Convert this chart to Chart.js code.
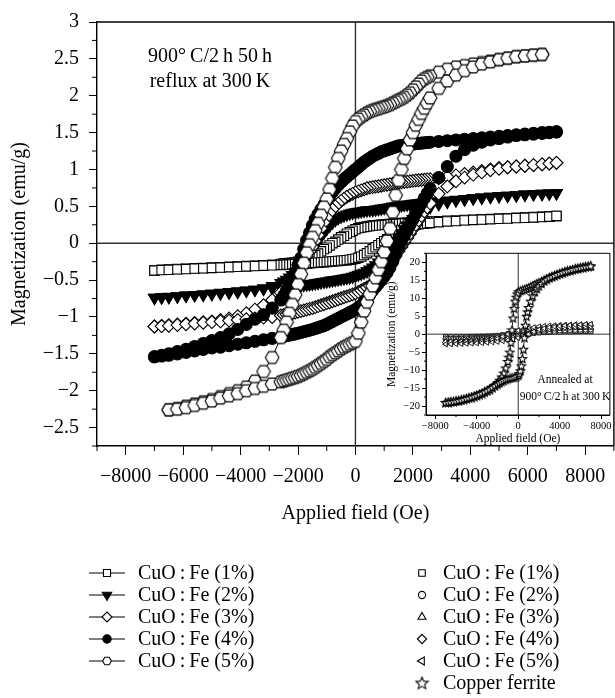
<!DOCTYPE html>
<html>
<head>
<meta charset="utf-8">
<script src="https://cdn.jsdelivr.net/npm/chart.js@4/dist/chart.umd.min.js"></script>
<style>
  html, body { margin: 0; padding: 0; background: #fff; overflow: hidden; }
  #wrap { position: relative; width: 615px; height: 698px; overflow: hidden; }
  #main { position: absolute; left: 0; top: 0; }
  #inset { position: absolute; left: 380px; top: 245px; }
</style>
</head>
<body>
<div id="wrap">
  <canvas id="main" width="622" height="698"></canvas>
  <canvas id="inset" width="235" height="205"></canvas>
</div>
<script>
// ---- main figure: field steps (Oe), descending then ascending branch
const fieldDown = [7000, 6750, 6500, 6200, 5900, 5600, 5300, 5000, 4700, 4400, 4100, 3800, 3500, 3200, 2900,
  2600, 2500, 2400, 2300, 2200, 2100, 2000, 1900, 1800, 1700, 1600, 1500, 1400, 1300, 1200, 1100, 1000, 900, 800, 700, 600, 500, 400, 300, 200, 100,
  0, -100, -200, -300, -400, -500, -600, -700, -800, -900, -1000, -1100, -1200, -1300, -1400, -1500, -1600, -1700, -1800, -1900, -2000, -2100, -2200, -2300, -2400, -2500, -2600,
  -2900, -3200, -3500, -3800, -4100, -4400, -4700, -5000, -5300, -5600, -5900, -6200, -6500, -6750, -7000];
const fieldUp = [-7000, -6750, -6500, -6200, -5900, -5600, -5300, -5000, -4700, -4400, -4100, -3800, -3500, -3200, -2900,
  -2600, -2500, -2400, -2300, -2200, -2100, -2000, -1900, -1800, -1700, -1600, -1500, -1400, -1300, -1200, -1100, -1000, -900, -800, -700, -600, -500, -400, -300, -200, -100,
  0, 100, 200, 300, 400, 500, 600, 700, 800, 900, 1000, 1100, 1200, 1300, 1400, 1500, 1600, 1700, 1800, 1900, 2000, 2100, 2200, 2300, 2400, 2500, 2600,
  2900, 3200, 3500, 3800, 4100, 4400, 4700, 5000, 5300, 5600, 5900, 6200, 6500, 6750, 7000];

// magnetization (emu/g), 50 h reflux samples
const fe1Down = [0.37, 0.365, 0.36, 0.355, 0.35, 0.345, 0.34, 0.335, 0.33, 0.325, 0.32, 0.315, 0.31, 0.305, 0.30,
  0.295, 0.293, 0.291, 0.289, 0.287, 0.285, 0.283, 0.28, 0.278, 0.275, 0.273, 0.27, 0.267, 0.264, 0.26, 0.257, 0.254, 0.25, 0.247, 0.243, 0.24, 0.234, 0.227, 0.22, 0.214, 0.205,
  0.19, 0.17, 0.15, 0.13, 0.10, 0.08, 0.05, 0.02, 0.0, -0.03, -0.06, -0.08, -0.11, -0.14, -0.16, -0.18, -0.195, -0.21, -0.225, -0.24, -0.25, -0.26, -0.264, -0.268, -0.272, -0.276, -0.28,
  -0.29, -0.30, -0.305, -0.31, -0.315, -0.32, -0.325, -0.33, -0.335, -0.34, -0.345, -0.35, -0.355, -0.36, -0.37];
const fe1Up = [-0.37, -0.365, -0.36, -0.355, -0.35, -0.345, -0.34, -0.335, -0.33, -0.325, -0.32, -0.315, -0.31, -0.305, -0.30,
  -0.295, -0.293, -0.291, -0.289, -0.287, -0.285, -0.283, -0.28, -0.278, -0.275, -0.273, -0.27, -0.267, -0.264, -0.26, -0.257, -0.254, -0.25, -0.247, -0.243, -0.24, -0.236, -0.233, -0.23, -0.224, -0.217,
  -0.21, -0.197, -0.182, -0.16, -0.135, -0.11, -0.08, -0.055, -0.027, 0.0, 0.027, 0.053, 0.08, 0.107, 0.133, 0.16, 0.18, 0.20, 0.215, 0.23, 0.24, 0.25, 0.256, 0.262, 0.266, 0.27, 0.275,
  0.285, 0.295, 0.30, 0.31, 0.315, 0.32, 0.325, 0.33, 0.335, 0.34, 0.345, 0.35, 0.355, 0.36, 0.37];
const fe2Down = [0.68, 0.675, 0.67, 0.665, 0.66, 0.65, 0.645, 0.64, 0.63, 0.62, 0.61, 0.60, 0.59, 0.58, 0.57,
  0.56, 0.556, 0.552, 0.548, 0.544, 0.54, 0.535, 0.53, 0.525, 0.52, 0.515, 0.51, 0.503, 0.497, 0.49, 0.483, 0.477, 0.47, 0.463, 0.457, 0.45, 0.45, 0.447, 0.44, 0.433, 0.427,
  0.42, 0.413, 0.403, 0.39, 0.377, 0.36, 0.34, 0.315, 0.28, 0.24, 0.195, 0.145, 0.09, 0.035, -0.02, -0.07, -0.125, -0.18, -0.235, -0.29, -0.34, -0.39, -0.43, -0.465, -0.495, -0.52, -0.54,
  -0.58, -0.61, -0.63, -0.645, -0.66, -0.67, -0.68, -0.69, -0.70, -0.705, -0.71, -0.72, -0.725, -0.73, -0.74];
const fe2Up = [-0.74, -0.735, -0.73, -0.72, -0.71, -0.70, -0.69, -0.68, -0.67, -0.66, -0.65, -0.64, -0.63, -0.62, -0.61,
  -0.60, -0.596, -0.592, -0.588, -0.584, -0.58, -0.575, -0.57, -0.565, -0.56, -0.555, -0.55, -0.543, -0.537, -0.53, -0.523, -0.517, -0.51, -0.503, -0.497, -0.49, -0.483, -0.477, -0.47, -0.463, -0.453,
  -0.44, -0.427, -0.413, -0.40, -0.38, -0.357, -0.33, -0.297, -0.26, -0.22, -0.173, -0.123, -0.07, -0.017, 0.037, 0.09, 0.14, 0.19, 0.24, 0.29, 0.33, 0.37, 0.40, 0.425, 0.45, 0.47, 0.49,
  0.53, 0.56, 0.58, 0.595, 0.61, 0.62, 0.63, 0.64, 0.645, 0.65, 0.66, 0.665, 0.67, 0.675, 0.68];
const fe3Down = [1.09, 1.08, 1.07, 1.06, 1.05, 1.04, 1.03, 1.02, 1.00, 0.98, 0.96, 0.94, 0.92, 0.90, 0.88,
  0.87, 0.866, 0.862, 0.858, 0.854, 0.85, 0.845, 0.84, 0.835, 0.83, 0.825, 0.82, 0.813, 0.807, 0.80, 0.793, 0.787, 0.78, 0.773, 0.767, 0.76, 0.753, 0.745, 0.73, 0.717, 0.703,
  0.69, 0.67, 0.65, 0.63, 0.603, 0.575, 0.54, 0.50, 0.46, 0.41, 0.35, 0.28, 0.20, 0.11, 0.03, -0.05, -0.115, -0.18, -0.24, -0.30, -0.365, -0.43, -0.48, -0.53, -0.58, -0.625, -0.67,
  -0.77, -0.84, -0.90, -0.95, -0.99, -1.02, -1.04, -1.06, -1.07, -1.08, -1.09, -1.10, -1.11, -1.12, -1.13];
const fe3Up = [-1.13, -1.125, -1.12, -1.11, -1.10, -1.09, -1.08, -1.07, -1.06, -1.05, -1.04, -1.03, -1.02, -1.01, -1.00,
  -0.98, -0.972, -0.964, -0.956, -0.948, -0.94, -0.93, -0.92, -0.91, -0.90, -0.89, -0.88, -0.867, -0.853, -0.84, -0.827, -0.813, -0.80, -0.787, -0.773, -0.76, -0.747, -0.733, -0.72, -0.707, -0.693,
  -0.68, -0.66, -0.64, -0.62, -0.60, -0.577, -0.55, -0.517, -0.48, -0.44, -0.393, -0.343, -0.29, -0.23, -0.17, -0.11, -0.05, 0.01, 0.07, 0.13, 0.19, 0.25, 0.31, 0.37, 0.43, 0.485, 0.54,
  0.67, 0.77, 0.84, 0.89, 0.93, 0.96, 0.99, 1.01, 1.03, 1.04, 1.05, 1.06, 1.07, 1.08, 1.09];
const fe4Down = [1.51, 1.505, 1.50, 1.49, 1.48, 1.47, 1.46, 1.45, 1.44, 1.43, 1.42, 1.41, 1.40, 1.39, 1.38,
  1.37, 1.366, 1.362, 1.358, 1.354, 1.35, 1.345, 1.34, 1.335, 1.33, 1.325, 1.32, 1.307, 1.293, 1.28, 1.267, 1.253, 1.24, 1.22, 1.20, 1.18, 1.153, 1.127, 1.10, 1.067, 1.033,
  1.00, 0.967, 0.933, 0.90, 0.867, 0.83, 0.79, 0.743, 0.695, 0.64, 0.58, 0.52, 0.46, 0.395, 0.325, 0.24, 0.14, 0.04, -0.08, -0.20, -0.30, -0.40, -0.48, -0.56, -0.64, -0.71, -0.77,
  -0.88, -0.97, -1.03, -1.10, -1.17, -1.23, -1.28, -1.32, -1.36, -1.40, -1.44, -1.47, -1.50, -1.52, -1.54];
const fe4Up = [-1.54, -1.53, -1.52, -1.50, -1.48, -1.46, -1.44, -1.42, -1.41, -1.39, -1.37, -1.35, -1.33, -1.31, -1.29,
  -1.27, -1.262, -1.254, -1.246, -1.238, -1.23, -1.22, -1.21, -1.20, -1.19, -1.18, -1.17, -1.157, -1.143, -1.13, -1.117, -1.10, -1.08, -1.06, -1.04, -1.02, -1.00, -0.98, -0.96, -0.94, -0.92,
  -0.90, -0.875, -0.845, -0.80, -0.75, -0.695, -0.64, -0.593, -0.547, -0.50, -0.453, -0.40, -0.33, -0.245, -0.15, -0.05, 0.025, 0.10, 0.175, 0.25, 0.325, 0.40, 0.47, 0.54, 0.61, 0.675, 0.74,
  0.89, 1.04, 1.18, 1.27, 1.33, 1.37, 1.40, 1.42, 1.44, 1.46, 1.47, 1.48, 1.49, 1.50, 1.51];
const fe5Down = [null, null, 2.56, 2.55, 2.54, 2.53, 2.51, 2.49, 2.47, 2.45, 2.43, 2.41, 2.39, 2.36, 2.32,
  2.27, 2.25, 2.23, 2.20, 2.16, 2.12, 2.08, 2.04, 2.01, 1.98, 1.96, 1.94, 1.92, 1.90, 1.88, 1.865, 1.85, 1.84, 1.825, 1.815, 1.80, 1.785, 1.765, 1.74, 1.715, 1.685,
  1.65, 1.59, 1.51, 1.42, 1.34, 1.25, 1.15, 1.03, 0.88, 0.73, 0.60, 0.49, 0.38, 0.27, 0.17, 0.08, -0.02, -0.13, -0.27, -0.42, -0.56, -0.70, -0.83, -0.95, -1.07, -1.18, -1.28,
  -1.55, -1.74, -1.87, -1.95, -2.00, -2.04, -2.08, -2.12, -2.15, -2.18, -2.21, -2.24, -2.26, null, null];
const fe5Up = [null, null, -2.26, -2.25, -2.23, -2.20, -2.17, -2.14, -2.10, -2.07, -2.04, -2.00, -1.97, -1.94, -1.91,
  -1.88, -1.868, -1.856, -1.844, -1.832, -1.82, -1.805, -1.79, -1.77, -1.75, -1.73, -1.71, -1.683, -1.657, -1.63, -1.603, -1.575, -1.54, -1.513, -1.487, -1.46, -1.433, -1.41, -1.39, -1.37, -1.35,
  -1.33, -1.22, -1.07, -0.92, -0.80, -0.69, -0.58, -0.47, -0.36, -0.25, -0.12, 0.03, 0.20, 0.42, 0.65, 0.85, 1.00, 1.15, 1.28, 1.40, 1.50, 1.60, 1.68, 1.76, 1.83, 1.90, 1.97,
  2.10, 2.20, 2.28, 2.34, 2.39, 2.43, 2.46, 2.49, 2.51, 2.53, 2.54, 2.55, 2.56, null, null];

const xTicks = [-8000, -6000, -4000, -2000, 0, 2000, 4000, 6000, 8000];
const xMinorTicks = [-9000, -7000, -5000, -3000, -1000, 1000, 3000, 5000, 7000, 9000];
const yTicks = [-2.5, -2, -1.5, -1, -0.5, 0, 0.5, 1, 1.5, 2, 2.5, 3];
const yMinorTicks = [-2.75, -2.25, -1.75, -1.25, -0.75, -0.25, 0.25, 0.75, 1.25, 1.75, 2.25, 2.75];

// ---- inset: annealed samples
const insetFieldDown = [7000, 6500, 6000, 5500, 5000, 4500, 4000, 3500, 3000, 2500, 2000, 1500, 1000, 500, 0, -500, -1000, -1500, -2000, -2500, -3000, -3500, -4000, -4500, -5000, -5500, -6000, -6500, -7000];
const insetFieldUp = [-7000, -6500, -6000, -5500, -5000, -4500, -4000, -3500, -3000, -2500, -2000, -1500, -1000, -500, 0, 500, 1000, 1500, 2000, 2500, 3000, 3500, 4000, 4500, 5000, 5500, 6000, 6500, 7000];
const ann1Down = [0.8, 0.79, 0.78, 0.78, 0.76, 0.74, 0.73, 0.7, 0.68, 0.65, 0.61, 0.55, 0.48, 0.4, 0.3, 0.18, 0, -0.2, -0.36, -0.46, -0.54, -0.59, -0.64, -0.68, -0.71, -0.74, -0.76, -0.78, -0.8];
const ann1Up = [-0.8, -0.79, -0.78, -0.78, -0.76, -0.74, -0.73, -0.7, -0.68, -0.65, -0.61, -0.55, -0.48, -0.4, -0.3, -0.18, 0, 0.2, 0.36, 0.46, 0.54, 0.59, 0.64, 0.68, 0.71, 0.74, 0.76, 0.78, 0.8];
const ann2Down = [1.3, 1.29, 1.27, 1.26, 1.24, 1.21, 1.18, 1.14, 1.1, 1.05, 0.99, 0.9, 0.78, 0.65, 0.49, 0.29, 0, -0.33, -0.59, -0.75, -0.87, -0.96, -1.04, -1.1, -1.16, -1.2, -1.24, -1.27, -1.3];
const ann2Up = [-1.3, -1.29, -1.27, -1.26, -1.24, -1.21, -1.18, -1.14, -1.1, -1.05, -0.99, -0.9, -0.78, -0.65, -0.49, -0.29, 0, 0.33, 0.59, 0.75, 0.87, 0.96, 1.04, 1.1, 1.16, 1.2, 1.24, 1.27, 1.3];
const ann3Down = [1.8, 1.78, 1.76, 1.75, 1.71, 1.67, 1.64, 1.58, 1.53, 1.46, 1.37, 1.24, 1.08, 0.9, 0.68, 0.4, 0, -0.45, -0.81, -1.04, -1.21, -1.33, -1.44, -1.53, -1.6, -1.66, -1.71, -1.76, -1.8];
const ann3Up = [-1.8, -1.78, -1.76, -1.75, -1.71, -1.67, -1.64, -1.58, -1.53, -1.46, -1.37, -1.24, -1.08, -0.9, -0.68, -0.4, 0, 0.45, 0.81, 1.04, 1.21, 1.33, 1.44, 1.53, 1.6, 1.66, 1.71, 1.76, 1.8];
const ann4Down = [2.3, 2.28, 2.25, 2.23, 2.19, 2.14, 2.09, 2.02, 1.96, 1.86, 1.75, 1.59, 1.38, 1.15, 0.87, 0.51, 0, -0.58, -1.04, -1.33, -1.54, -1.7, -1.84, -1.96, -2.05, -2.12, -2.19, -2.25, -2.3];
const ann4Up = [-2.3, -2.28, -2.25, -2.23, -2.19, -2.14, -2.09, -2.02, -1.96, -1.86, -1.75, -1.59, -1.38, -1.15, -0.87, -0.51, 0, 0.58, 1.04, 1.33, 1.54, 1.7, 1.84, 1.96, 2.05, 2.12, 2.19, 2.25, 2.3];
const ann5Down = [2.8, 2.77, 2.74, 2.72, 2.66, 2.6, 2.55, 2.46, 2.38, 2.27, 2.13, 1.93, 1.68, 1.4, 1.06, 0.62, 0, -0.7, -1.26, -1.62, -1.88, -2.07, -2.24, -2.38, -2.49, -2.58, -2.66, -2.74, -2.8];
const ann5Up = [-2.8, -2.77, -2.74, -2.72, -2.66, -2.6, -2.55, -2.46, -2.38, -2.27, -2.13, -1.93, -1.68, -1.4, -1.06, -0.62, 0, 0.7, 1.26, 1.62, 1.88, 2.07, 2.24, 2.38, 2.49, 2.58, 2.66, 2.74, 2.8];

const ferriteFieldDown = [7000, 6750, 6500, 6250, 6000, 5750, 5500, 5250, 5000, 4750, 4500, 4250, 4000, 3750, 3500, 3250, 3000, 2750, 2500, 2250, 2000,
  1800, 1600, 1400, 1200, 1000, 800, 600, 400, 200, 0,
  -100, -200, -300, -400, -500, -600, -700, -800, -900, -1000,
  -1200, -1400, -1600, -1800, -2000,
  -2250, -2500, -2750, -3000, -3250, -3500, -3750, -4000, -4250, -4500, -4750, -5000, -5250, -5500, -5750, -6000, -6250, -6500, -6750, -7000];
const ferriteFieldUp = [-7000, -6750, -6500, -6250, -6000, -5750, -5500, -5250, -5000, -4750, -4500, -4250, -4000, -3750, -3500, -3250, -3000, -2750, -2500, -2250, -2000,
  -1800, -1600, -1400, -1200, -1000, -800, -600, -400, -200, 0,
  100, 200, 300, 400, 500, 600, 700, 800, 900, 1000,
  1200, 1400, 1600, 1800, 2000,
  2250, 2500, 2750, 3000, 3250, 3500, 3750, 4000, 4250, 4500, 4750, 5000, 5250, 5500, 5750, 6000, 6250, 6500, 6750, 7000];
const ferriteDown = [19.0, 18.9, 18.8, 18.65, 18.5, 18.35, 18.2, 18.0, 17.8, 17.6, 17.4, 17.15, 16.9, 16.65, 16.4, 16.1, 15.8, 15.45, 15.1, 14.75, 14.4,
  14.1, 13.8, 13.5, 13.2, 12.9, 12.7, 12.5, 12.3, 12.1, 11.8,
  11.2, 10.3, 9.2, 7.2, 4.5, 1.2, -2.3, -5.0, -6.4, -7.6,
  -9.4, -10.8, -11.9, -12.8, -13.5,
  -14.2, -14.8, -15.3, -15.7, -16.05, -16.4, -16.7, -17.0, -17.25, -17.5, -17.7, -17.9, -18.1, -18.3, -18.45, -18.6, -18.7, -18.8, -18.9, -19.0];
const ferriteUp = [-19.0, -18.9, -18.8, -18.7, -18.6, -18.45, -18.3, -18.1, -17.9, -17.7, -17.5, -17.25, -17.0, -16.7, -16.4, -16.05, -15.7, -15.3, -14.8, -14.35, -13.9,
  -13.55, -13.2, -12.9, -12.6, -12.4, -12.2, -12.1, -12.0, -11.8, -11.5,
  -11.0, -10.2, -8.8, -6.8, -4.2, -1.0, 2.5, 5.0, 6.2, 7.4,
  9.2, 10.7, 11.8, 12.7, 13.4,
  14.1, 14.8, 15.3, 15.7, 16.0, 16.3, 16.6, 16.9, 17.15, 17.4, 17.6, 17.8, 18.0, 18.2, 18.35, 18.5, 18.65, 18.8, 18.9, 19.0];

const insetXTicks = [-8000, -4000, 0, 4000, 8000];
const insetXMinor = [-6000, -2000, 2000, 6000];
const insetYTicks = [-20, -15, -10, -5, 0, 5, 10, 15, 20];
const insetYMinor = [-22.5, -17.5, -12.5, -7.5, -2.5, 2.5, 7.5, 12.5, 17.5, 22.5];

const refluxLabels = ['CuO\u2009:\u2009Fe (1%)', 'CuO\u2009:\u2009Fe (2%)', 'CuO\u2009:\u2009Fe (3%)', 'CuO\u2009:\u2009Fe (4%)', 'CuO\u2009:\u2009Fe (5%)'];
const annealLabels = ['CuO\u2009:\u2009Fe (1%)', 'CuO\u2009:\u2009Fe (2%)', 'CuO\u2009:\u2009Fe (3%)', 'CuO\u2009:\u2009Fe (4%)', 'CuO\u2009:\u2009Fe (5%)', 'Copper ferrite'];

const SERIF = "'Liberation Serif', 'Times New Roman', serif";
const MINUS = '\u2212';
const signed = v => (v < 0 ? MINUS + Math.abs(v) : String(v));

// marker images for shapes Chart.js does not have
function shapeImage(size, path) {
  const c = document.createElement('canvas');
  c.width = c.height = size;
  const g = c.getContext('2d');
  path(g, size / 2);
  g.fillStyle = '#fff';
  g.fill();
  g.lineWidth = 1.1;
  g.strokeStyle = '#000';
  g.stroke();
  return c;
}
const hexPath = r => (g, c) => {
  g.beginPath();
  for (let k = 0; k < 6; k++) {
    const a = Math.PI / 3 * k;
    g.lineTo(c + r * Math.cos(a), c + r * Math.sin(a));
  }
  g.closePath();
};
const starPath = r => (g, c) => {
  g.beginPath();
  for (let k = 0; k < 10; k++) {
    const a = -Math.PI / 2 + Math.PI / 5 * k;
    const rr = k % 2 ? r * 0.45 : r;
    g.lineTo(c + rr * Math.cos(a), c + 0.5 + rr * Math.sin(a));
  }
  g.closePath();
};
const hexMain = shapeImage(16, hexPath(6.8));
const hexLegend = shapeImage(12, hexPath(4.4));
const starInset = shapeImage(11, starPath(4.4));
const starLegend = shapeImage(15, starPath(6.4));

const branch = (f, m) => f.map((h, i) => ({ x: h, y: m[i] }));
const loop = (fd, md, fu, mu) => branch(fd, md).concat(branch(fu, mu));

function pointSet(label, data, style, radius, fill, order, extra) {
  return Object.assign({
    label, data, order,
    showLine: true, borderColor: '#000', borderWidth: 1,
    pointStyle: style, pointRadius: radius,
    pointBackgroundColor: fill, pointBorderColor: '#000', pointBorderWidth: 1.1
  }, extra || {});
}

// frame, zero lines, minor ticks and notes
function framePlugin(cfg) {
  return {
    id: 'frame_' + cfg.name,
    beforeDatasetsDraw(chart) {
      const { ctx, chartArea: a, scales: { x, y } } = chart;
      ctx.save();
      ctx.strokeStyle = '#333';
      ctx.lineWidth = cfg.zeroWidth;
      const x0 = x.getPixelForValue(0), y0 = y.getPixelForValue(0);
      ctx.beginPath();
      ctx.moveTo(x0, a.top); ctx.lineTo(x0, a.bottom);
      ctx.moveTo(a.left, y0); ctx.lineTo(a.right, y0);
      ctx.stroke();
      ctx.restore();
    },
    afterDraw(chart) {
      const { ctx, chartArea: a, scales: { x, y } } = chart;
      ctx.save();
      ctx.strokeStyle = '#000';
      ctx.lineWidth = cfg.boxWidth;
      ctx.beginPath();
      ctx.moveTo(a.left, a.top); ctx.lineTo(a.right, a.top); ctx.lineTo(a.right, a.bottom);
      if (cfg.closed) { ctx.lineTo(a.left, a.bottom); ctx.closePath(); }
      ctx.stroke();
      ctx.lineWidth = 1;
      ctx.beginPath();
      cfg.xMinor.forEach(v => {
        const px = x.getPixelForValue(v);
        ctx.moveTo(px, a.bottom); ctx.lineTo(px, a.bottom + cfg.minorLen);
      });
      cfg.yMinor.forEach(v => {
        const py = y.getPixelForValue(v);
        ctx.moveTo(a.left - cfg.minorLen, py); ctx.lineTo(a.left, py);
      });
      ctx.stroke();
      ctx.fillStyle = '#000';
      ctx.textAlign = 'center';
      ctx.textBaseline = 'middle';
      cfg.notes.forEach(n => {
        ctx.font = n.font;
        ctx.fillText(n.text, n.x, n.y);
      });
      ctx.restore();
    }
  };
}

// two-column legend under the main plot
const legendPlugin = {
  id: 'twoColLegend',
  afterDraw(chart) {
    const ctx = chart.ctx;
    const top = 573, step = 22;
    const leftMarks = [
      { pointStyle: 'rect', radius: 5, rotation: 0, fill: '#fff' },
      { pointStyle: 'triangle', radius: 5.5, rotation: 180, fill: '#000' },
      { pointStyle: 'rectRot', radius: 5, rotation: 0, fill: '#fff' },
      { pointStyle: 'circle', radius: 4.2, rotation: 0, fill: '#000' },
      { pointStyle: hexLegend, radius: 5, rotation: 0, fill: '#fff' }
    ];
    const rightMarks = [
      { pointStyle: 'rect', radius: 4.6, rotation: 0 },
      { pointStyle: 'circle', radius: 3.6, rotation: 0 },
      { pointStyle: 'triangle', radius: 4.6, rotation: 0 },
      { pointStyle: 'rectRot', radius: 4.6, rotation: 0 },
      { pointStyle: 'triangle', radius: 4.6, rotation: -90 },
      { pointStyle: starLegend, radius: 6, rotation: 0 }
    ];
    ctx.save();
    ctx.font = '20px ' + SERIF;
    ctx.textBaseline = 'middle';
    ctx.textAlign = 'left';
    ctx.strokeStyle = '#000';
    ctx.lineWidth = 1.1;
    refluxLabels.forEach((t, i) => {
      const yy = top + i * step;
      ctx.beginPath();
      ctx.moveTo(89, yy); ctx.lineTo(125, yy);
      ctx.stroke();
      const m = leftMarks[i];
      ctx.fillStyle = m.fill;
      Chart.helpers.drawPoint(ctx, { pointStyle: m.pointStyle, radius: m.radius, rotation: m.rotation, borderWidth: 1.1 }, 107, yy);
      ctx.fillStyle = '#000';
      ctx.fillText(t, 138, yy + 1);
    });
    annealLabels.forEach((t, i) => {
      const yy = top + i * step;
      const m = rightMarks[i];
      ctx.fillStyle = '#fff';
      Chart.helpers.drawPoint(ctx, { pointStyle: m.pointStyle, radius: m.radius, rotation: m.rotation, borderWidth: 1.1 }, 422, yy);
      ctx.fillStyle = '#000';
      ctx.fillText(t, 443, yy + 1);
    });
    ctx.restore();
  }
};

const axisFont = { family: SERIF, size: 20 };

new Chart(document.getElementById('main'), {
  type: 'scatter',
  data: {
    datasets: [
      pointSet(refluxLabels[0], loop(fieldDown, fe1Down, fieldUp, fe1Up), 'rect', 6.6, '#fff', 4),
      pointSet(refluxLabels[1], loop(fieldDown, fe2Down, fieldUp, fe2Up), 'triangle', 6.8, '#000', 3, { pointRotation: 180 }),
      pointSet(refluxLabels[2], loop(fieldDown, fe3Down, fieldUp, fe3Up), 'rectRot', 6.4, '#fff', 2),
      pointSet(refluxLabels[3], loop(fieldDown, fe4Down, fieldUp, fe4Up), 'circle', 6, '#000', 1),
      pointSet(refluxLabels[4], loop(fieldDown, fe5Down, fieldUp, fe5Up), hexMain, 7, '#fff', 0)
    ]
  },
  options: {
    responsive: false,
    animation: false,
    events: [],
    layout: { padding: { left: 0, top: 13, right: 4, bottom: 172 } },
    plugins: { legend: { display: false }, tooltip: { enabled: false } },
    scales: {
      x: {
        type: 'linear', min: -9000, max: 9000,
        afterBuildTicks: s => { s.ticks = xTicks.map(v => ({ value: v })); },
        afterFit: s => { s.height = 80; },
        ticks: { callback: signed, font: axisFont, color: '#000', padding: 10, maxRotation: 0, autoSkip: false },
        grid: { display: true, drawOnChartArea: false, drawTicks: true, tickLength: 9, color: '#000', lineWidth: 1 },
        border: { display: true, color: '#000', width: 1.4 },
        title: { display: true, text: 'Applied field (Oe)', font: axisFont, color: '#000', padding: { top: 0, bottom: 0 } }
      },
      y: {
        type: 'linear', min: -2.75, max: 3,
        afterBuildTicks: s => { s.ticks = yTicks.map(v => ({ value: v })); },
        afterFit: s => { s.width = 97; },
        ticks: { callback: signed, font: axisFont, color: '#000', padding: 10, autoSkip: false },
        grid: { display: true, drawOnChartArea: false, drawTicks: true, tickLength: 8, color: '#000', lineWidth: 1 },
        border: { display: true, color: '#000', width: 1.4 },
        title: { display: true, text: 'Magnetization (emu/g)', font: axisFont, color: '#000', padding: { top: 8, bottom: 0 } }
      }
    }
  },
  plugins: [
    framePlugin({
      name: 'main', zeroWidth: 1.4, boxWidth: 1.4, closed: false, minorLen: 5,
      xMinor: xMinorTicks, yMinor: yMinorTicks,
      notes: [
        { text: '900\u00B0\u2009C/2\u2009h 50\u2009h', x: 210, y: 57, font: '20px ' + SERIF },
        { text: 'reflux at 300\u2009K', x: 210, y: 82, font: '20px ' + SERIF }
      ]
    }),
    legendPlugin
  ]
});

const insetFont = { family: SERIF, size: 10.5 };
const insetTitleFont = { family: SERIF, size: 11.5 };
const thin = { borderWidth: 0.8, pointBorderWidth: 0.8 };

new Chart(document.getElementById('inset'), {
  type: 'scatter',
  data: {
    datasets: [
      pointSet(annealLabels[0], loop(insetFieldDown, ann1Down, insetFieldUp, ann1Up), 'rect', 3, '#fff', 5, thin),
      pointSet(annealLabels[1], loop(insetFieldDown, ann2Down, insetFieldUp, ann2Up), 'circle', 2.5, '#fff', 4, thin),
      pointSet(annealLabels[2], loop(insetFieldDown, ann3Down, insetFieldUp, ann3Up), 'triangle', 3, '#fff', 3, thin),
      pointSet(annealLabels[3], loop(insetFieldDown, ann4Down, insetFieldUp, ann4Up), 'rectRot', 3, '#fff', 2, thin),
      pointSet(annealLabels[4], loop(insetFieldDown, ann5Down, insetFieldUp, ann5Up), 'triangle', 3, '#fff', 1, Object.assign({ pointRotation: -90 }, thin)),
      pointSet(annealLabels[5], loop(ferriteFieldDown, ferriteDown, ferriteFieldUp, ferriteUp), starInset, 4, '#fff', 0, { borderWidth: 0.8 })
    ]
  },
  options: {
    responsive: false,
    animation: false,
    events: [],
    layout: { padding: { left: 0, top: 8, right: 3, bottom: 0 } },
    plugins: { legend: { display: false }, tooltip: { enabled: false } },
    scales: {
      x: {
        type: 'linear', min: -8900, max: 8850,
        afterBuildTicks: s => { s.ticks = insetXTicks.map(v => ({ value: v })); },
        afterFit: s => { s.height = 35; },
        ticks: { callback: signed, font: insetFont, color: '#000', padding: 1, maxRotation: 0, autoSkip: false },
        grid: { display: true, drawOnChartArea: false, drawTicks: true, tickLength: 4, color: '#000', lineWidth: 1 },
        border: { display: true, color: '#000', width: 1 },
        title: { display: true, text: 'Applied field (Oe)', font: insetTitleFont, color: '#000', padding: { top: 0, bottom: 4 } }
      },
      y: {
        type: 'linear', min: -22.5, max: 22.5,
        afterBuildTicks: s => { s.ticks = insetYTicks.map(v => ({ value: v })); },
        afterFit: s => { s.width = 46; },
        ticks: { callback: signed, font: insetFont, color: '#000', padding: 2, autoSkip: false },
        grid: { display: true, drawOnChartArea: false, drawTicks: true, tickLength: 4, color: '#000', lineWidth: 1 },
        border: { display: true, color: '#000', width: 1 },
        title: { display: true, text: 'Magnetization (emu/g)', font: insetTitleFont, color: '#000', padding: { top: 5, bottom: 0 } }
      }
    }
  },
  plugins: [
    framePlugin({
      name: 'inset', zeroWidth: 1, boxWidth: 1, closed: true, minorLen: 2,
      xMinor: insetXMinor, yMinor: insetYMinor,
      notes: [
        { text: 'Annealed at', x: 185, y: 135, font: '11.5px ' + SERIF },
        { text: '900\u00B0\u2009C/2\u2009h at 300\u2009K', x: 185, y: 152, font: '11.5px ' + SERIF }
      ]
    })
  ]
});
</script>
</body>
</html>
